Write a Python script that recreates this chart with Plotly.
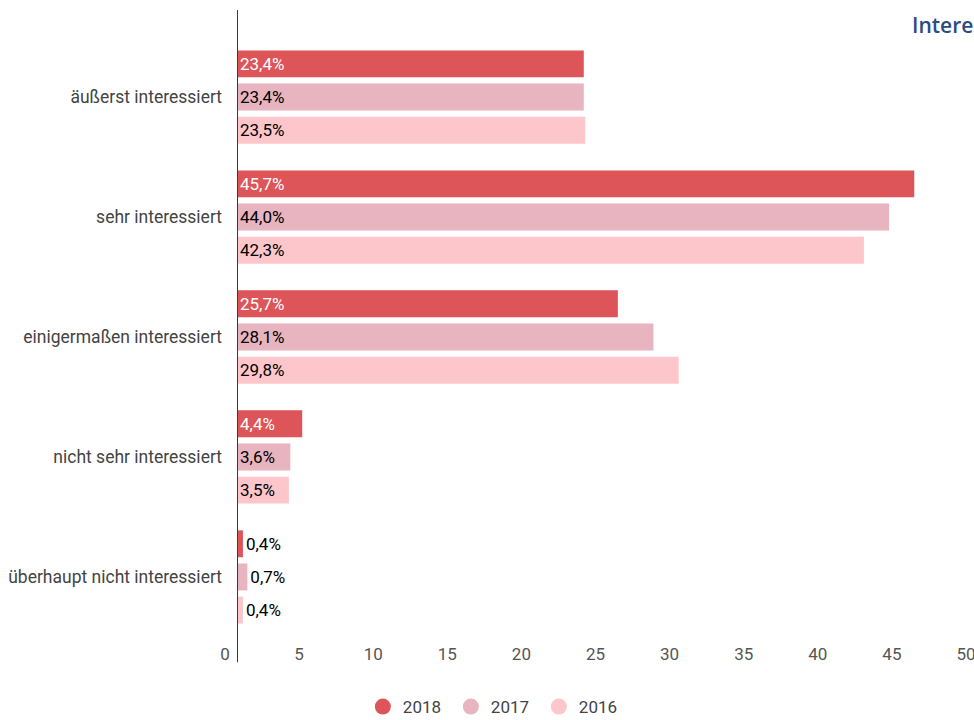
import plotly.graph_objects as go

FONT = "Roboto"

categories = [
    "äußerst interessiert",
    "sehr interessiert",
    "einigermaßen interessiert",
    "nicht sehr interessiert",
    "überhaupt nicht interessiert",
]
years = ["2018", "2017", "2016"]
values_2018 = [23.4, 45.7, 25.7, 4.4, 0.4]
values_2017 = [23.4, 44.0, 28.1, 3.6, 0.7]
values_2016 = [23.5, 42.3, 29.8, 3.5, 0.4]
x_ticks = [0, 5, 10, 15, 20, 25, 30, 35, 40, 45, 50]

series = [values_2018, values_2017, values_2016]
colors = ["#dd5559", "#e7b4bf", "#fdc6ca"]
inside_text = ["white", "black", "black"]

fig = go.Figure()
for year, vals, color, tcol in zip(years, series, colors, inside_text):
    fig.add_trace(go.Bar(
        y=categories,
        x=vals,
        orientation="h",
        name=year,
        marker=dict(color=color, line=dict(width=0)),
        texttemplate="%{x:.1f}%",
        textposition="auto",
        insidetextanchor="start",
        insidetextfont=dict(color=tcol, size=17, family=FONT),
        outsidetextfont=dict(color="black", size=17, family=FONT),
        constraintext="none",
        cliponaxis=False,
        showlegend=False,
        hoverinfo="skip",
    ))
    # round legend markers
    fig.add_trace(go.Scatter(
        x=[None], y=[None], mode="markers", name=year,
        marker=dict(color=color, size=16, symbol="circle"),
    ))

# vertical axis line (longer than plot area)
fig.add_shape(type="line", xref="x", yref="paper", x0=0, x1=0,
              y0=-0.033, y1=1.036, line=dict(color="#3a3a3a", width=2))

# chart is a bit wider than the window, the right edge gets cut off
fig.update_layout(
    width=978,
    height=720,
    paper_bgcolor="white",
    plot_bgcolor="white",
    separators=",.",
    barmode="group",
    bargap=0.17,
    bargroupgap=0.19,
    font=dict(family=FONT, size=17, color="#444444"),
    margin=dict(t=32, b=78, l=237, r=0, pad=0),
    title=dict(
        text="Interesse an Politik",
        font=dict(family="Open Sans", size=21, color="#2b4c7e", weight=600),
        xref="container", x=0.9325, xanchor="left",
        yref="container", y=0.964, yanchor="middle",
    ),
    xaxis=dict(
        range=[0, 50],
        tickvals=x_ticks,
        showgrid=False,
        zeroline=False,
        showline=False,
        ticks="",
        ticklabelshift=-12,
        tickfont=dict(size=17, color="#555555"),
    ),
    yaxis=dict(
        categoryorder="array",
        categoryarray=categories,
        range=[4.542, -0.542],
        showgrid=False,
        zeroline=False,
        showline=False,
        ticks="",
        ticklabelstandoff=14,
        tickfont=dict(size=17.5, color="#444444"),
    ),
    legend=dict(
        orientation="h",
        xref="container", x=0.506, xanchor="center",
        yref="container", y=0.018, yanchor="middle",
        font=dict(size=17, color="#444444"),
        itemsizing="trace",
        entrywidth=43,
    ),
)

fig.write_html(
    "out.html",
    config={"displayModeBar": False},
    post_script="document.body.style.margin='0';document.body.style.overflow='hidden';",
)
